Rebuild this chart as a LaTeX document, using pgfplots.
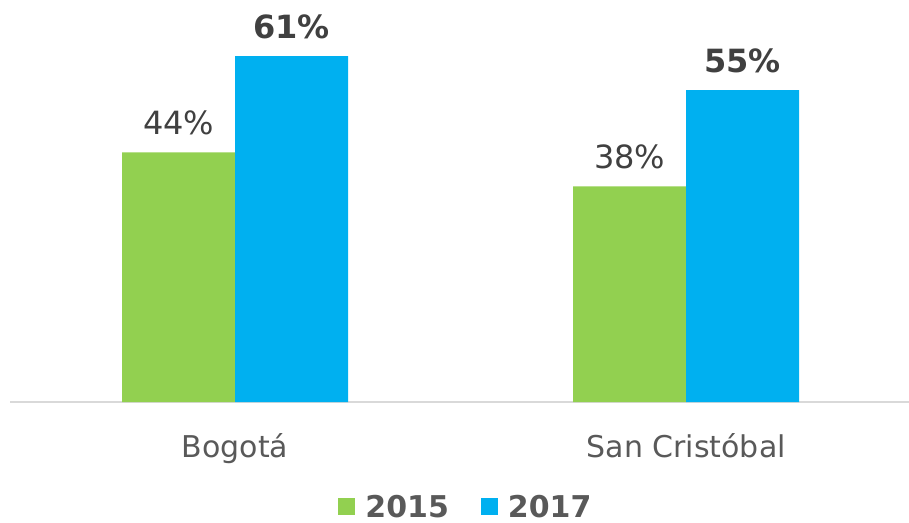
\documentclass[border=0pt]{standalone}
\usepackage{pgfplots}
\pgfplotsset{compat=1.18}
\usepackage{fontspec}
\setmainfont{DejaVu Sans}

\definecolor{green15}{HTML}{92D050}
\definecolor{blue17}{HTML}{00B0F0}
\definecolor{axisgray}{HTML}{D9D9D9}
\definecolor{txt}{HTML}{595959}
\definecolor{valtxt}{HTML}{404040}

\begin{document}
\begin{tikzpicture}
\useasboundingbox (-10pt,-120pt) rectangle (899pt,402pt);
\begin{axis}[
    at={(0pt,0pt)}, anchor=south west,
    scale only axis,
    width=899pt, height=397pt,
    ybar=0pt,
    bar width=113pt,
    xmin=-0.499, xmax=1.494,
    ymin=0, ymax=70,
    xtick=data,
    xticklabels={Bogotá, San Cristóbal},
    major tick length=0pt,
    axis x line=bottom,
    axis y line=none,
    x axis line style={-, draw=axisgray, line width=1.5pt},
    x tick label style={font=\fontsize{30}{36}\selectfont, text=txt, anchor=base, yshift=-55pt, inner sep=0pt},
    /pgf/number format/assume math mode=true,
    nodes near coords={\pgfmathprintnumber{\pgfplotspointmeta}\%},
    legend style={
        at={(0.506,-0.2645)}, anchor=center,
        draw=none, fill=none,
        legend columns=2,
        font=\fontsize{30}{36}\selectfont\bfseries,
        text=txt,
        /tikz/every odd column/.append style={column sep=10pt},
        /tikz/every even column/.append style={column sep=32pt},
        nodes={inner sep=0pt},
    },
    legend image code/.code={\fill[#1] (0pt,-8pt) rectangle (17pt,9pt);},
]
\addplot[fill=green15, draw=none,
    every node near coord/.append style={font=\fontsize{32}{38}\selectfont, text=valtxt, anchor=base, yshift=18pt, inner sep=0pt}]
    coordinates {(0,44) (1,38)};
\addplot[fill=blue17, draw=none,
    every node near coord/.append style={font=\fontsize{32}{38}\selectfont\bfseries, text=valtxt, anchor=base, yshift=18pt, inner sep=0pt}]
    coordinates {(0,61) (1,55)};
\legend{2015, 2017}
\end{axis}
\end{tikzpicture}
\end{document}
